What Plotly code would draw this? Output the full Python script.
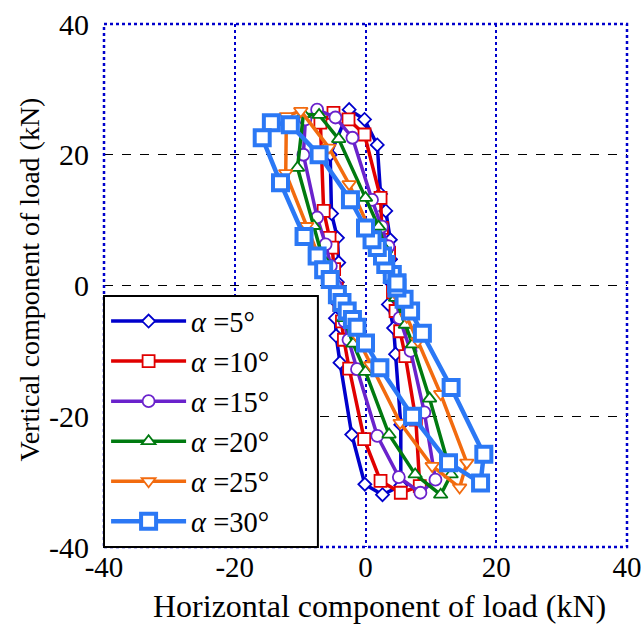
import plotly.graph_objects as go

# alpha = 5 deg
x5 = [3.8, 3.8, 3.1, 2.3, 1.8, -0.15, -2.5, -5.4, -5.2, -4.3, -4.1, -4.3, -4.5, -4.6, -4.5, -3.9, -2.1, -0.1, 2.6, 5.4, 5.4, 4.6, 4.3, 3.5, 3.8]
y5 = [4.0, 7.0, 11.4, 14.0, 21.5, 25.4, 26.9, 20.0, 11.0, 7.3, 3.5, 0.5, -2.5, -5.0, -7.7, -11.8, -22.8, -30.4, -32.0, -30.6, -21.3, -10.5, -6.5, -2.9, 0.5]
# alpha = 10 deg
x10 = [3.6, 2.5, 2.3, -0.15, -2.6, -4.9, -6.9, -6.4, -5.5, -5.1, -4.8, -4.4, -4.0, -3.6, -3.3, -2.5, -0.2, 2.3, 5.4, 8.3, 7.7, 6.1, 5.3, 4.6, 4.2, 3.9]
y10 = [5.0, 8.8, 13.4, 23.1, 25.4, 26.4, 24.9, 11.4, 7.3, 5.8, 2.5, -0.5, -3.0, -5.5, -8.3, -12.7, -23.5, -29.9, -31.7, -30.7, -20.5, -10.8, -7.0, -3.9, -1.0, 2.0]
# alpha = 15 deg
x15 = [3.5, 2.5, 1.0, -2.0, -4.6, -7.4, -9.2, -9.5, -7.4, -6.1, -5.3, -4.6, -3.8, -3.2, -2.6, -1.3, 1.8, 5.1, 8.4, 10.7, 9.0, 6.9, 5.2, 4.6, 4.2]
y15 = [6.0, 9.0, 13.1, 22.6, 25.7, 26.9, 25.4, 20.0, 10.4, 6.3, 3.0, 0.0, -3.0, -5.5, -8.3, -12.8, -23.0, -29.3, -31.7, -29.7, -19.4, -10.0, -5.0, -1.5, 2.0]
# alpha = 20 deg
x20 = [3.0, 2.0, 0.0, -4.1, -7.1, -9.5, -10.4, -7.9, -6.5, -5.5, -4.5, -3.3, -1.9, 0.0, 3.6, 7.6, 11.5, 13.1, 9.8, 7.2, 6.1, 4.6, 3.8]
y20 = [5.5, 9.0, 13.4, 22.4, 26.1, 26.2, 18.0, 9.1, 4.0, 1.0, -2.0, -5.0, -8.9, -13.2, -22.8, -28.9, -32.0, -28.9, -17.3, -9.0, -6.0, -1.9, 2.0]
# alpha = 25 deg
x25 = [1.6, 0.3, -2.5, -5.6, -9.9, -12.1, -12.2, -9.0, -6.6, -5.4, -4.3, -3.0, -1.5, 0.8, 5.3, 10.2, 14.4, 15.5, 11.5, 8.0, 6.3, 5.3, 4.4, 3.3]
y25 = [6.5, 9.3, 15.5, 21.1, 26.7, 25.9, 17.2, 9.1, 3.0, 0.5, -2.0, -4.5, -7.5, -12.2, -21.0, -27.6, -30.9, -27.1, -16.6, -8.5, -4.8, -2.2, 0.5, 3.3]
# alpha = 30 deg
x30 = [4.8, 4.1, 3.1, 2.6, 1.8, 1.0, 0.0, -2.3, -7.1, -11.5, -14.4, -15.8, -13.0, -9.4, -7.4, -6.4, -5.4, -4.3, -3.6, -2.8, -2.0, -1.3, 0.0, 2.2, 7.2, 12.7, 17.6, 18.1, 13.1, 8.7, 6.9, 5.9, 4.8]
y30 = [0.4, 1.7, 3.2, 4.5, 5.8, 7.0, 8.8, 13.1, 20.0, 24.6, 24.9, 22.6, 15.7, 7.5, 4.5, 2.4, 0.9, -1.4, -2.6, -3.9, -5.2, -6.4, -8.8, -12.6, -20.0, -27.1, -30.2, -25.8, -15.6, -7.3, -3.9, -2.1, -0.4]

names = ["5", "10", "15", "20", "25", "30"]
xs = [x5, x10, x15, x20, x25, x30]
ys = [y5, y10, y15, y20, y25, y30]
colors = ["#0000CC", "#E00000", "#6A22CC", "#007A10", "#F26B0F", "#2B78F5"]
symbols = ["diamond", "square", "circle", "triangle-up", "triangle-down", "square"]
msizes = [10, 12, 12, 12, 12, 15]
mlw = [1.8, 1.8, 1.8, 1.8, 1.8, 4]
lw = [3.5, 3.5, 3.5, 3.5, 3.5, 4.5]

tick_vals = [-40, -20, 0, 20, 40]
tick_text = ["-40", "-20", "0", "20", "40"]
x_title = "Horizontal component of load (kN)"
y_title = "Vertical component of load (kN)"

FONT = "Liberation Serif"

fig = go.Figure()
for i in range(6):
    xx = xs[i] + [xs[i][0]]
    yy = ys[i] + [ys[i][0]]
    fig.add_trace(go.Scatter(
        x=xx, y=yy, mode="lines+markers",
        name="<i>α</i> =" + names[i] + "°",
        line=dict(color=colors[i], width=lw[i]),
        marker=dict(symbol=symbols[i], size=msizes[i], color="white",
                    line=dict(color=colors[i], width=mlw[i])),
    ))

fig.update_layout(
    width=641, height=625,
    margin=dict(l=104, r=14, t=24, b=78, autoexpand=False),
    plot_bgcolor="white", paper_bgcolor="white",
    font=dict(family=FONT, size=26, color="black"),
    showlegend=True,
    legend=dict(x=0.004, y=0.0, xanchor="left", yanchor="bottom",
                bgcolor="rgba(0,0,0,0)", borderwidth=0,
                font=dict(family=FONT, size=28.5),
                itemwidth=75, tracegroupgap=0),
    xaxis=dict(range=[-40, 40], tickvals=tick_vals, ticktext=tick_text,
               showgrid=True, gridcolor="#0000CC", griddash="dot", gridwidth=2,
               zeroline=False, showline=False, ticks="", ticklabelstandoff=0,
               ticklabeloverflow="allow", automargin=False,
               tickfont=dict(family=FONT, size=29)),
    yaxis=dict(range=[-40, 40], tickvals=tick_vals, ticktext=tick_text,
               showgrid=True, gridcolor="black", griddash="dash", gridwidth=1.3,
               zeroline=False, showline=False, ticks="", ticklabelstandoff=14,
               ticklabeloverflow="allow", automargin=False,
               tickfont=dict(family=FONT, size=30)),
    shapes=[
        dict(type="rect", xref="paper", yref="paper", x0=0, y0=0, x1=1, y1=1,
             line=dict(color="#0000CC", width=2.5, dash="dot"), layer="above"),
        dict(type="rect", xref="paper", yref="paper", x0=0, y0=0, x1=0.409, y1=0.48,
             fillcolor="white", line=dict(color="black", width=2), layer="above"),
    ],
    annotations=[
        dict(text=x_title, xref="paper", yref="paper", x=0.526, y=-0.113,
             xanchor="center", yanchor="middle", showarrow=False,
             font=dict(family=FONT, size=32)),
        dict(text=y_title, xref="paper", yref="paper", x=-0.143, y=0.512,
             xanchor="center", yanchor="middle", showarrow=False, textangle=-90,
             font=dict(family=FONT, size=28)),
    ],
)

fig.write_html("out.html")
